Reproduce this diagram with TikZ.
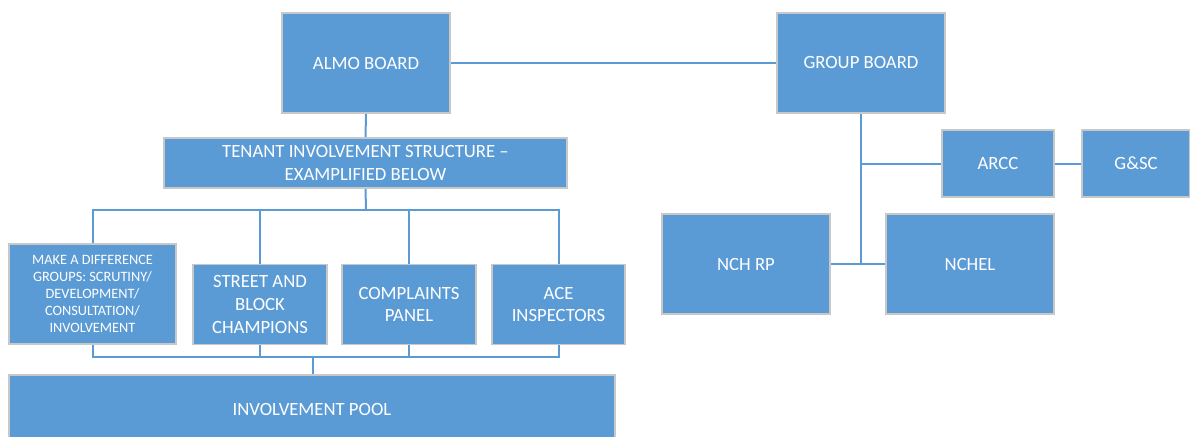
\documentclass[tikz,border=0pt]{standalone}
\usepackage{fontspec}
\setmainfont{Carlito}
\usetikzlibrary{backgrounds}
\definecolor{boxblue}{HTML}{5B9BD5}
\definecolor{boxedge}{HTML}{C8C8C8}
\tikzset{
  orgbox/.style={draw=boxedge, line width=1.3pt, fill=boxblue, text=white, align=center,
    inner sep=0pt, font=\fontsize{18.7}{22.7}\selectfont},
  smallbox/.style={orgbox, font=\fontsize{14.3}{16.9}\selectfont},
  link/.style={draw=boxblue, line width=2pt}
}
\begin{document}
\begin{tikzpicture}[x=1pt, y=-1pt]
\useasboundingbox (0,0) rectangle (1190,436);
\clip (0,0) rectangle (1190,436);
% nodes
\node[orgbox, minimum width=168pt, minimum height=100pt] (almo) at (366,63) {ALMO BOARD};
\node[orgbox, minimum width=168pt, minimum height=100pt] (group) at (861,63) {GROUP BOARD};
\node[orgbox, minimum width=403pt, minimum height=50pt] (tis) at (365.5,163) {TENANT INVOLVEMENT STRUCTURE --\\EXAMPLIFIED BELOW};
\node[smallbox, minimum width=167pt, minimum height=100pt] (mad) at (92.5,294) {MAKE A DIFFERENCE\\GROUPS: SCRUTINY/\\DEVELOPMENT/\\CONSULTATION/\\INVOLVEMENT};
\node[orgbox, minimum width=134pt, minimum height=80pt] (street) at (260,304.5) {STREET AND\\BLOCK\\CHAMPIONS};
\node[orgbox, minimum width=134pt, minimum height=80pt] (compl) at (409,304.5) {COMPLAINTS\\PANEL};
\node[orgbox, minimum width=133pt, minimum height=80pt] (ace) at (558.5,304.5) {ACE\\INSPECTORS};
\node[orgbox, minimum width=606pt, minimum height=68pt] (pool) at (312,409) {INVOLVEMENT POOL};
\node[orgbox, minimum width=112pt, minimum height=67pt] (arcc) at (998,163.5) {ARCC};
\node[orgbox, minimum width=108pt, minimum height=67pt] (gsc) at (1136,163.5) {G\&SC};
\node[orgbox, minimum width=168pt, minimum height=100pt] (nchrp) at (746,264) {NCH RP};
\node[orgbox, minimum width=168pt, minimum height=100pt] (nchel) at (970,264) {NCHEL};
\coordinate (tb) at (366,210);
\coordinate (bb) at (313,357);
\coordinate (j) at (861,264);
\begin{scope}[on background layer]
\draw[link] (almo.east) -- (group.west);
\draw[link] (almo.south) -- (tis.north);
\draw[link] (tis.south) -- (tb);
\draw[link] (mad.north) -- (mad.north |- tb) -- (ace.north |- tb) -- (ace.north);
\draw[link] (street.north) -- (street.north |- tb);
\draw[link] (compl.north) -- (compl.north |- tb);
\draw[link] (mad.south) -- (mad.south |- bb) -- (ace.south |- bb) -- (ace.south);
\draw[link] (street.south) -- (street.south |- bb);
\draw[link] (compl.south) -- (compl.south |- bb);
\draw[link] (bb) -- (bb |- pool.north);
\draw[link] (group.south) -- (j);
\draw[link] (nchrp.east) -- (nchel.west);
\draw[link] (group.south |- arcc.west) -- (arcc.west);
\draw[link] (arcc.east) -- (gsc.west);
\end{scope}
\end{tikzpicture}
\end{document}
